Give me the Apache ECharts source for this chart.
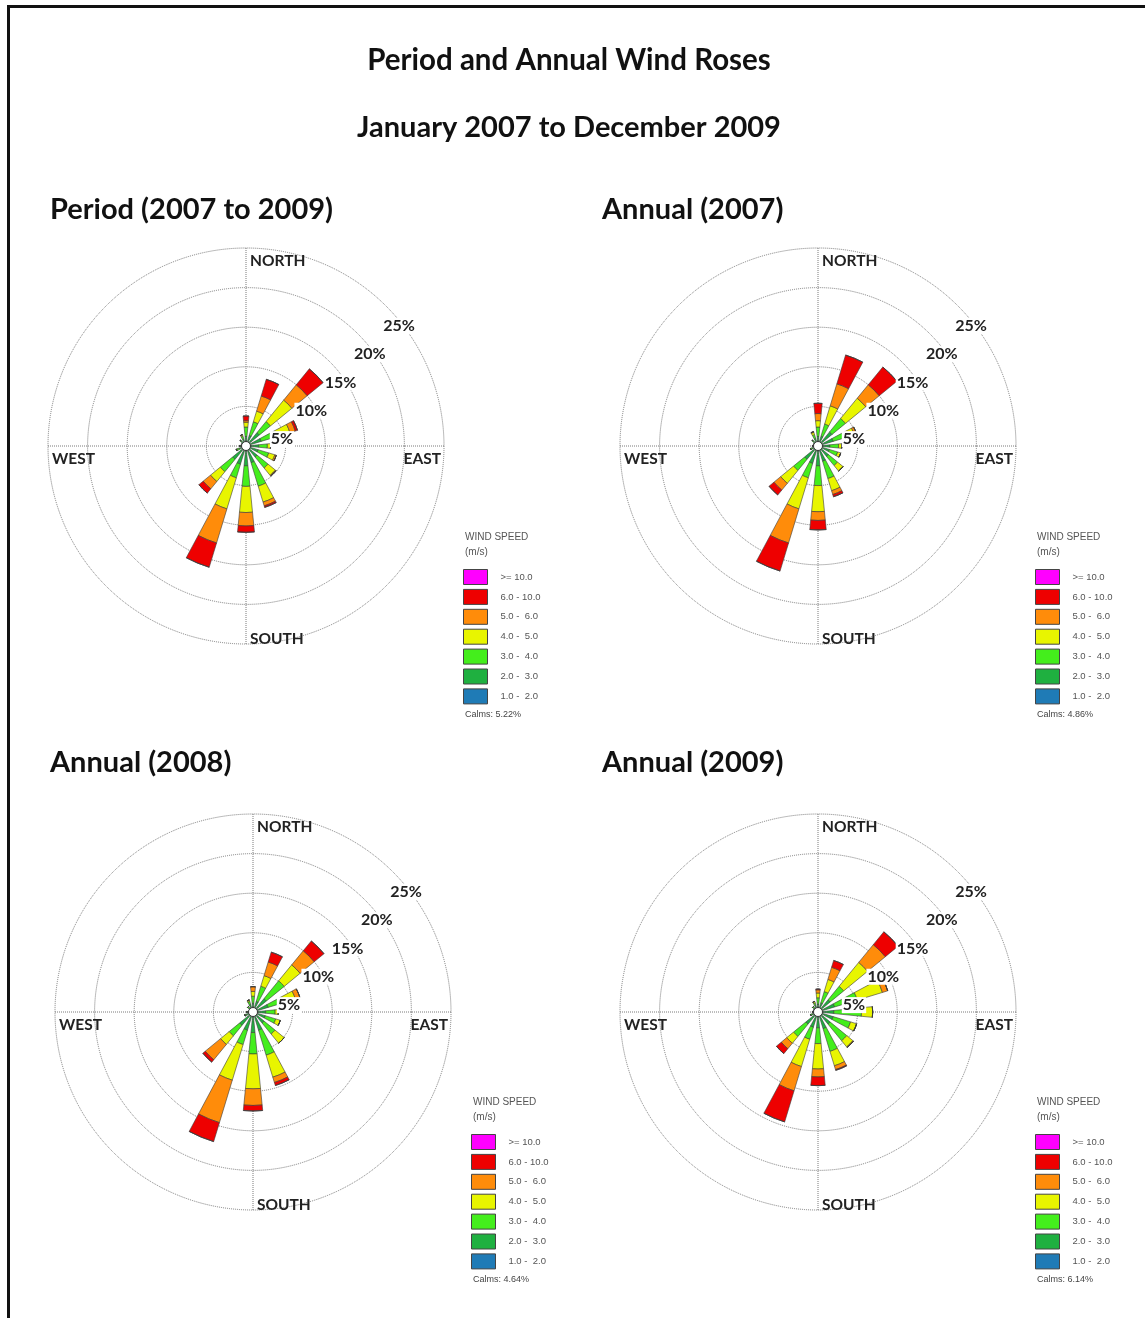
<!DOCTYPE html>
<html><head><meta charset="utf-8">
<script src="https://cdn.jsdelivr.net/npm/echarts@6/dist/echarts.min.js"></script>
<style>
html,body{margin:0;padding:0;background:#fff;overflow:hidden;}
#c{width:1145px;height:1318px;position:absolute;left:0;top:0;}
#frame{position:absolute;left:7px;top:5px;width:1200px;height:1400px;border-left:3px solid #111;border-top:3px solid #111;pointer-events:none;}
</style></head><body>
<div id="c"></div><div id="frame"></div>
<script>
// ---- data ----
const directions = ['N','NNE','NE','ENE','E','ESE','SE','SSE','S','SSW','SW','WSW','W','WNW','NW','NNW'];
// speed classes, inner (slowest) first
const speedClasses = ['1.0 -  2.0','2.0 -  3.0','3.0 -  4.0','4.0 -  5.0','5.0 -  6.0','6.0 - 10.0','>= 10.0'];
const speedColors = ['#1f7bb6','#1fb040','#44ee1c','#e8f500','#ff8c0a','#ee0000','#ff00ff'];
const ringTicks = [5, 10, 15, 20, 25];

// frequency (%) per direction, one row per speed class (1-2, 2-3, 3-4, 4-5, 5-6, 6-10, >=10)
const period2007to2009 = [
  [0.3,0.3,0.3,0.3,0.3,0.3,0.3,0.3,0.3,0.3,0.3,0.3,0.3,0.2,0.3,0.3],
  [0.9,1.1,1.9,1.7,1.3,1.3,1.5,1.9,2.2,2.1,1.9,0.6,0.4,0.3,0.5,0.6],
  [1.2,1.8,1.8,2.0,1.1,1.4,1.8,3.1,2.6,1.8,2.0,0.3,0.1,0.1,0.2,0.4],
  [0.6,1.4,3.5,1.8,0.4,0.8,1.2,2.1,3.3,4.1,1.6,0.1,0,0,0,0.2],
  [0.2,2.0,2.5,0.7,0,0.2,0.1,0.5,1.7,4.5,1.2,0,0,0,0,0],
  [0.6,2.2,2.6,0.3,0,0,0,0.2,0.8,3.2,0.7,0,0,0,0,0],
  [0,0,0,0,0,0,0,0,0,0,0,0,0,0,0,0]
];
const annual2007 = [
  [0.3,0.3,0.3,0.3,0.3,0.3,0.3,0.3,0.3,0.3,0.3,0.3,0.3,0.2,0.3,0.3],
  [0.9,1.0,2.0,1.7,1.2,1.2,1.4,1.7,2.2,2.0,1.9,0.5,0.3,0.3,0.5,0.7],
  [1.2,1.6,2.2,1.8,1.1,1.1,1.5,2.3,2.5,1.9,1.8,0.2,0.1,0.1,0.2,0.5],
  [0.8,2.4,3.3,1.0,0.4,0.4,0.9,1.6,3.3,4.1,2.1,0,0,0,0,0.3],
  [0.9,2.9,2.2,0.3,0,0,0,0.5,1.1,4.5,1.1,0,0,0,0,0.1],
  [1.3,3.8,2.9,0,0,0,0,0.3,1.2,3.7,0.8,0,0,0,0,0],
  [0,0,0,0,0,0,0,0,0,0,0,0,0,0,0,0]
];
const annual2008 = [
  [0.3,0.3,0.3,0.3,0.3,0.3,0.3,0.3,0.3,0.3,0.3,0.3,0.3,0.2,0.3,0.3],
  [0.8,1.1,1.9,1.7,1.3,1.3,1.5,2.1,2.3,2.1,1.9,0.6,0.4,0.2,0.4,0.7],
  [0.9,2.0,2.9,2.0,1.2,1.4,1.8,3.3,2.7,1.9,1.7,0.2,0.1,0.1,0.2,0.4],
  [0.6,1.4,2.6,1.6,0.4,0.6,1.5,2.9,4.4,4.7,1.4,0,0,0,0,0.2],
  [0.6,1.8,2.3,0.6,0,0,0,0.7,2.1,5.6,2.5,0,0,0,0,0],
  [0,1.3,1.6,0,0,0,0,0.4,0.7,2.5,0.4,0,0,0,0,0],
  [0,0,0,0,0,0,0,0,0,0,0,0,0,0,0,0]
];
const annual2009 = [
  [0.3,0.3,0.3,0.3,0.3,0.3,0.3,0.3,0.3,0.3,0.3,0.3,0.3,0.2,0.3,0.3],
  [0.7,0.9,1.7,1.9,1.7,1.7,1.7,1.9,1.7,1.7,1.7,0.5,0.3,0.3,0.4,0.6],
  [0.8,1.5,2.2,3.0,3.5,2.3,2.7,3.0,2.0,1.6,2.0,0.2,0.1,0.1,0.2,0.3],
  [0.6,1.6,3.9,3.3,1.4,0.8,1.0,1.9,3.2,3.6,1.1,0,0,0,0,0.2],
  [0.4,1.6,2.9,0.7,0,0,0.1,0.5,1.0,3.2,0.9,0,0,0,0,0],
  [0.1,0.9,2.1,0,0,0,0,0.1,1.1,4.1,0.8,0,0,0,0,0],
  [0,0,0,0,0,0,0,0,0,0,0,0,0,0,0,0]
];
const roseTitles = ['Period (2007 to 2009)','Annual (2007)','Annual (2008)','Annual (2009)'];
const calmsLabels = ['Calms: 5.22%','Calms: 4.86%','Calms: 4.64%','Calms: 6.14%'];
const roseData = [period2007to2009, annual2007, annual2008, annual2009];

// ---- layout ----
const R = 198;
const layout = [
  {cx:246, cy:446, tx:50,  ty:210, lx:463},
  {cx:818, cy:446, tx:602, ty:210, lx:1035},
  {cx:253, cy:1012, tx:50, ty:763, lx:471},
  {cx:818, cy:1012, tx:602, ty:763, lx:1035}
];
const legendTop = [537, 537, 1102, 1102];
// ring-label axis: drawn along a line parallel to the NE diagonal, offset to the lower right
const labelAxisShift = [6.7, 21.4], labelAxisRadius = 203.5, labelAxisAngle = 44;

const polar=[], angleAxis=[], radiusAxis=[], series=[], legend=[], graphic=[];
const gridLine = {color:'#7a7a7a', type:'dotted', width:1};
const boldFont = (s)=>'bold '+s+'px Lato, "Open Sans", sans-serif';
function txt(x,y,text,font,fill,align){
  return {type:'text', x:x, y:y, z:100, silent:true,
    style:{text:text, font:font, fill:fill, align:align||'left', verticalAlign:'middle',
           textAlign:align||'left', textVerticalAlign:'middle'}};
}

graphic.push(txt(569, 60, 'Period and Annual Wind Roses', boldFont(29.5), '#111', 'center'));
graphic.push(txt(569, 128, 'January 2007 to December 2009', boldFont(29), '#111', 'center'));

roseData.forEach((rows, i)=>{
  const L = layout[i];
  polar.push({center:[L.cx, L.cy], radius:R});
  polar.push({center:[L.cx, L.cy], radius:R});
  polar.push({center:[L.cx+labelAxisShift[0], L.cy+labelAxisShift[1]], radius:labelAxisRadius});
  const pg = 3*i, pb = 3*i+1, pl = 3*i+2;
  // grid polar
  angleAxis.push({polarIndex:pg, type:'value', min:0, max:360, interval:90, startAngle:90,
    axisLine:{show:false}, axisTick:{show:false}, axisLabel:{show:false},
    splitLine:{show:true, lineStyle:gridLine}});
  radiusAxis.push({polarIndex:pg, type:'value', min:0, max:25, interval:5,
    axisLine:{show:false}, axisTick:{show:false}, axisLabel:{show:false},
    splitLine:{show:true, lineStyle:gridLine}});
  // bar polar
  angleAxis.push({polarIndex:pb, type:'category', data:directions, startAngle:90+180/directions.length,
    axisLine:{show:false}, axisTick:{show:false}, axisLabel:{show:false}, splitLine:{show:false}});
  radiusAxis.push({polarIndex:pb, type:'value', min:0, max:25,
    axisLine:{show:false}, axisTick:{show:false}, axisLabel:{show:false}, splitLine:{show:false}});
  // ring-label polar
  angleAxis.push({polarIndex:pl, type:'value', min:0, max:360, startAngle:labelAxisAngle,
    axisLine:{show:false}, axisTick:{show:false}, axisLabel:{show:false}, splitLine:{show:false}});
  radiusAxis.push({polarIndex:pl, type:'value', min:0, max:25, interval:5, z:20,
    axisLine:{show:false}, axisTick:{show:false}, splitLine:{show:false},
    axisLabel:{show:true, showMaxLabel:true, showMinLabel:false, hideOverlap:false,
      margin:0, align:'center', verticalAlign:'middle', backgroundColor:'#fff', padding:[0,1],
      fontFamily:'Lato, "Open Sans", sans-serif', fontWeight:'bold', fontSize:16, color:'#222',
      formatter:(v)=> ringTicks.indexOf(v)>=0 ? v+'%' : ''}});

  rows.forEach((vals, s)=>{
    series.push({type:'bar', name:speedClasses[s], coordinateSystem:'polar', polarIndex:pb,
      stack:'rose'+i, barCategoryGap:'50%', data:vals, silent:true, z:5,
      itemStyle:{color:speedColors[s], borderColor:'#3a3a3a', borderWidth:0.6}});
  });

  // direction labels
  const df = boldFont(15.5);
  graphic.push(txt(L.cx+4, L.cy-185, 'NORTH', df, '#222'));
  graphic.push(txt(L.cx+4, L.cy+193, 'SOUTH', df, '#222'));
  graphic.push(txt(L.cx-194, L.cy+13, 'WEST', df, '#222'));
  graphic.push(txt(L.cx+195, L.cy+13, 'EAST', df, '#222', 'right'));
  // calm circle
  graphic.push({type:'circle', z:100, silent:true, shape:{cx:L.cx, cy:L.cy, r:4.5},
    style:{fill:'#fff', stroke:'#333', lineWidth:1}});
  // subplot title
  graphic.push(txt(L.tx, L.ty, roseTitles[i], boldFont(29), '#111'));
  // legend
  const lt = legendTop[i];
  const sf = '10px "Liberation Sans", Arial, sans-serif';
  graphic.push(txt(L.lx+2, lt, 'WIND SPEED', sf, '#555'));
  graphic.push(txt(L.lx+2, lt+15, '(m/s)', sf, '#555'));
  graphic.push(txt(L.lx+2, lt+178, calmsLabels[i], '9px "Liberation Sans", Arial, sans-serif', '#444'));
  legend.push({orient:'vertical', left:L.lx, top:lt+32, itemWidth:24, itemHeight:15, itemGap:3.9,
    selectedMode:false, icon:'rect', padding:0,
    itemStyle:{borderWidth:1, borderColor:'#444'},
    data:speedClasses.slice().reverse(),
    formatter:(n)=>'   '+n,
    textStyle:{fontSize:9.5, color:'#555', fontFamily:'"Liberation Sans", Arial, sans-serif'}});
});

const chart = echarts.init(document.getElementById('c'), null, {renderer:'canvas'});
chart.setOption({animation:false, backgroundColor:'#fff', polar, angleAxis, radiusAxis, series, legend, graphic});
</script>
</body></html>
